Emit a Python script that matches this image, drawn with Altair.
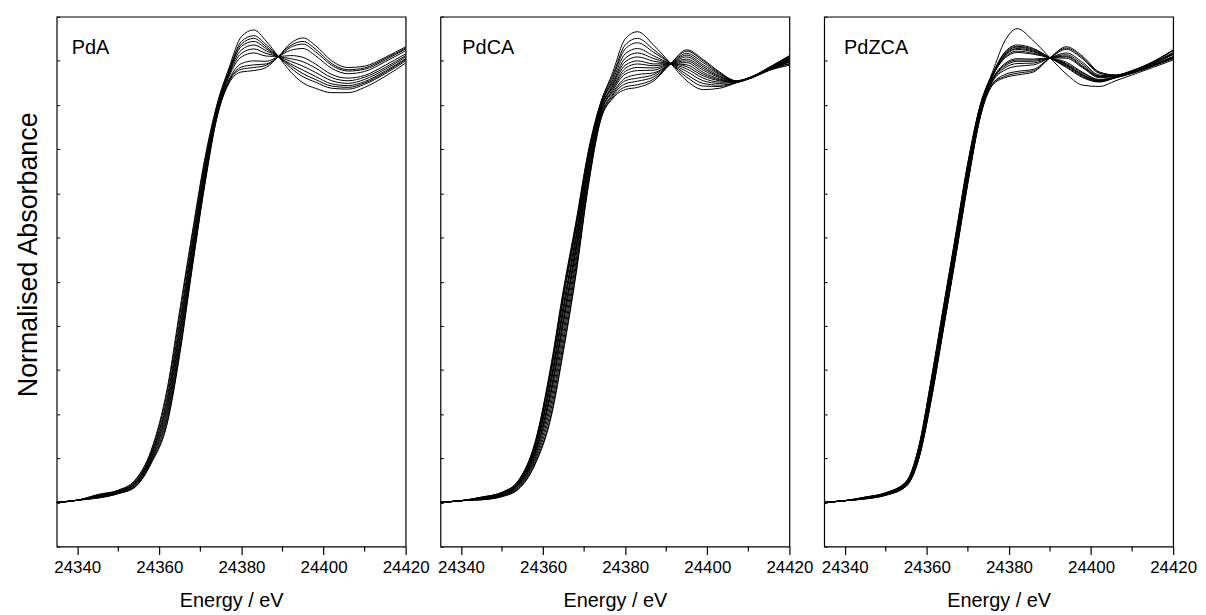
import altair as alt
import pandas as pd

FONT = "Liberation Sans"

# ---------------- energies (eV) ----------------
EDGE_E_A = [24335, 24340, 24345, 24350, 24354, 24358, 24362, 24365, 24368, 24371, 24374]
POST_E_A = [24377, 24380, 24383, 24386, 24389, 24392, 24395, 24398, 24402, 24406, 24410, 24415, 24420]

EDGE_E_C = [24335, 24340, 24345, 24350, 24354, 24358, 24362, 24365, 24368, 24371, 24374]
POST_E_C = [24377, 24380, 24383, 24387, 24391, 24395, 24399, 24403, 24407, 24411, 24415, 24420]

EDGE_E_Z = [24335, 24340, 24345, 24350, 24355, 24358, 24361, 24364, 24367, 24370, 24373]
POST_E_Z = [24376, 24379, 24382, 24386, 24390, 24394, 24398, 24402, 24406, 24410, 24415, 24420]

# ---------------- PdA ----------------
PDA_EDGE = [
    [0, .005, .010, .020, .034, .088, .182, .337, .530, .715, .870],
    [0, .005, .010, .020, .035, .090, .186, .342, .534, .718, .872],
    [0, .005, .011, .021, .036, .093, .194, .352, .542, .724, .875],
    [0, .005, .012, .022, .038, .096, .202, .362, .550, .730, .878],
    [0, .005, .013, .023, .040, .099, .210, .372, .558, .736, .880],
    [0, .005, .014, .024, .041, .101, .218, .382, .566, .742, .884],
    [0, .005, .014, .024, .043, .105, .226, .392, .574, .748, .887],
    [0, .005, .015, .025, .044, .108, .234, .402, .582, .754, .890],
    [0, .005, .016, .026, .046, .110, .242, .412, .590, .760, .892],
    [0, .005, .017, .027, .048, .115, .254, .427, .602, .769, .897],
    [0, .005, .018, .028, .050, .118, .262, .437, .610, .775, .900],
]
PDA_POST = [
    [.950, .975, .978, .985, 1.010, 1.040, 1.052, 1.035, 1.000, .985, .988, 1.008, 1.032],
    [.953, .981, .985, .990, 1.010, 1.035, 1.044, 1.027, .994, .980, .984, 1.005, 1.029],
    [.955, .986, .991, .993, 1.009, 1.031, 1.038, 1.021, .990, .977, .981, 1.002, 1.027],
    [.958, .994, 1.000, .999, 1.010, 1.024, 1.028, 1.012, .983, .971, .976, .998, 1.023],
    [.965, 1.009, 1.018, 1.011, 1.010, 1.012, 1.008, .993, .969, .961, .967, .990, 1.016],
    [.969, 1.017, 1.027, 1.017, 1.010, 1.005, .998, .984, .962, .955, .963, .985, 1.012],
    [.972, 1.025, 1.036, 1.023, 1.010, .999, .988, .974, .955, .949, .958, .981, 1.009],
    [.975, 1.033, 1.044, 1.028, 1.009, .993, .979, .965, .948, .944, .953, .977, 1.005],
    [.978, 1.038, 1.051, 1.032, 1.010, .989, .971, .958, .943, .940, .950, .974, 1.003],
    [.980, 1.044, 1.057, 1.037, 1.010, .984, .964, .952, .938, .936, .947, .971, 1.000],
    [.985, 1.055, 1.070, 1.045, 1.010, .975, .950, .938, .928, .928, .940, .965, .995],
]

# ---------------- PdCA ----------------
PDCA_EDGE = [
    [0, .004, .006, .013, .030, .085, .195, .345, .515, .715, .865],
    [0, .004, .006, .014, .031, .088, .201, .352, .521, .719, .867],
    [0, .004, .007, .015, .033, .093, .213, .366, .533, .727, .871],
    [0, .004, .008, .016, .035, .098, .225, .380, .545, .735, .875],
    [0, .004, .009, .018, .040, .110, .255, .415, .575, .755, .885],
    [0, .004, .008, .017, .037, .103, .237, .394, .557, .743, .879],
    [0, .004, .009, .018, .039, .108, .249, .408, .569, .751, .883],
    [0, .004, .010, .020, .044, .120, .279, .443, .599, .771, .893],
    [0, .004, .009, .019, .041, .113, .261, .422, .581, .759, .887],
    [0, .004, .010, .020, .043, .118, .273, .436, .593, .767, .891],
    [0, .004, .011, .022, .048, .130, .303, .471, .623, .787, .901],
    [0, .004, .011, .021, .045, .123, .285, .450, .605, .775, .895],
    [0, .004, .011, .022, .047, .128, .297, .464, .617, .783, .899],
    [0, .004, .012, .023, .050, .135, .315, .485, .635, .795, .905],
    [0, .004, .012, .023, .049, .133, .309, .478, .629, .791, .903],
]
PDCA_POST = [
    [.915, .935, .940, .955, .993, 1.025, 1.003, .975, .955, .965, .985, 1.012],
    [.918, .941, .946, .959, .993, 1.022, 1.000, .973, .955, .965, .985, 1.011],
    [.922, .948, .954, .964, .993, 1.017, .996, .971, .954, .965, .984, 1.010],
    [.925, .955, .961, .969, .993, 1.013, .991, .969, .954, .964, .984, 1.008],
    [.929, .961, .969, .973, .993, 1.009, .987, .966, .954, .964, .983, 1.007],
    [.933, .970, .978, .979, .994, 1.004, .983, .964, .954, .964, .983, 1.005],
    [.937, .976, .985, .984, .994, 1.000, .979, .962, .953, .964, .982, 1.004],
    [.940, .983, .993, .989, .994, .996, .974, .959, .953, .964, .982, 1.003],
    [.944, .990, 1.000, .993, .994, .991, .970, .957, .953, .964, .982, 1.001],
    [.948, .998, 1.009, .999, .994, .987, .966, .955, .952, .963, .981, 1.000],
    [.952, 1.006, 1.018, 1.005, .994, .982, .961, .952, .952, .963, .981, .998],
    [.957, 1.016, 1.028, 1.011, .994, .976, .955, .949, .952, .963, .980, .997],
    [.963, 1.027, 1.041, 1.019, .995, .969, .949, .945, .951, .963, .979, .994],
    [.968, 1.036, 1.051, 1.025, .995, .963, .943, .942, .951, .962, .979, .993],
    [.975, 1.050, 1.066, 1.035, .995, .955, .935, .938, .950, .962, .978, .990],
]

# ---------------- PdZCA ----------------
PDZCA_EDGE = [
    [0, .004, .008, .016, .037, .097, .228, .390, .554, .723, .872],
    [0, .004, .009, .017, .038, .101, .235, .398, .562, .730, .876],
    [0, .004, .009, .018, .040, .104, .240, .403, .567, .735, .879],
    [0, .004, .008, .017, .037, .098, .230, .392, .556, .725, .873],
    [0, .004, .010, .020, .043, .113, .255, .419, .583, .750, .888],
    [0, .004, .009, .017, .038, .100, .233, .395, .559, .728, .875],
    [0, .004, .009, .018, .040, .106, .243, .406, .570, .738, .881],
    [0, .004, .010, .019, .043, .112, .253, .417, .581, .748, .887],
    [0, .004, .009, .017, .039, .103, .238, .401, .565, .733, .878],
    [0, .004, .011, .020, .045, .118, .263, .428, .592, .758, .893],
    [0, .004, .010, .018, .041, .107, .245, .409, .573, .740, .882],
    [0, .004, .012, .021, .047, .122, .270, .436, .600, .765, .897],
    [0, .004, .011, .020, .044, .115, .258, .422, .586, .753, .890],
    [0, .004, .012, .022, .047, .124, .273, .438, .602, .768, .899],
    [0, .004, .011, .021, .046, .119, .265, .430, .594, .760, .894],
    [0, .004, .012, .022, .048, .125, .275, .441, .605, .770, .900],
]
PDZCA_POST = [
    [.945, .962, .968, .975, 1.007, 1.032, 1.010, .975, .968, .978, .998, 1.025],
    [.947, .965, .972, .978, 1.007, 1.029, 1.007, .974, .968, .978, .997, 1.024],
    [.948, .969, .976, .981, 1.007, 1.026, 1.004, .972, .967, .977, .997, 1.023],
    [.953, .979, .988, .991, 1.007, 1.018, .996, .968, .966, .976, .995, 1.019],
    [.955, .984, .994, .995, 1.007, 1.014, .992, .966, .966, .976, .994, 1.017],
    [.956, .988, .999, .999, 1.007, 1.011, .988, .965, .965, .975, .994, 1.016],
    [.958, .991, 1.002, 1.002, 1.007, 1.009, .986, .964, .965, .975, .993, 1.015],
    [.959, .994, 1.005, 1.004, 1.007, 1.006, .984, .962, .965, .975, .993, 1.014],
    [.964, 1.006, 1.019, 1.015, 1.007, .997, .974, .958, .964, .974, .991, 1.010],
    [.965, 1.008, 1.022, 1.017, 1.007, .994, .972, .957, .963, .973, .990, 1.009],
    [.966, 1.011, 1.026, 1.020, 1.007, .992, .969, .955, .963, .973, .990, 1.008],
    [.967, 1.013, 1.028, 1.022, 1.007, .991, .968, .955, .963, .973, .989, 1.007],
    [.968, 1.015, 1.031, 1.024, 1.007, .989, .966, .954, .962, .972, .989, 1.007],
    [.969, 1.018, 1.033, 1.026, 1.007, .987, .964, .953, .962, .972, .988, 1.006],
    [.970, 1.020, 1.036, 1.028, 1.007, .985, .962, .952, .962, .972, .988, 1.005],
    [.975, 1.045, 1.073, 1.045, 1.007, .970, .945, .942, .955, .968, .985, 1.002],
]

PANEL_LABELS = ["PdA", "PdCA", "PdZCA"]
X_DOMAIN = [24335, 24420]
Y_DOMAIN = [-0.1, 1.1]
X_MAJOR_TICKS = [24340, 24360, 24380, 24400, 24420]
X_MINOR_TICKS = [24350, 24370, 24390, 24410]
Y_TICKS = [-0.1, 0.0, 0.1, 0.2, 0.3, 0.4, 0.5, 0.6, 0.7, 0.8, 0.9, 1.0, 1.1]

W, H = 351, 533


def build(edge_e, post_e, edge_vals, post_vals):
    rows = []
    energies = edge_e + post_e
    for i, (ev, pv) in enumerate(zip(edge_vals, post_vals)):
        for e, v in zip(energies, ev + pv):
            rows.append({"curve": i, "E": e, "A": v})
    return pd.DataFrame(rows)


def panel(df, label, label_dx, first):
    x = alt.X(
        "E:Q",
        scale=alt.Scale(domain=X_DOMAIN, nice=False, zero=False),
        axis=alt.Axis(
            values=X_MAJOR_TICKS,
            format="d",
            tickSize=8,
            labelFlush=False,
            labelOverlap=False,
            labelFontSize=17,
            labelPadding=5,
            titleFontSize=20,
            titlePadding=15,
            domain=False,
            grid=False,
            tickColor="black",
            tickWidth=1.2,
        ),
        title="Energy / eV",
    )
    y = alt.Y(
        "A:Q",
        scale=alt.Scale(domain=Y_DOMAIN, nice=False, zero=False),
        axis=alt.Axis(
            values=Y_TICKS,
            labels=False,
            domain=False,
            grid=False,
            tickSize=3,
            offset=-3,
            tickColor="black",
            tickWidth=1,
            titleFontSize=27,
            titlePadding=14,
            titleY=239,
        ),
        title="Normalised Absorbance" if first else "",
    )
    lines = alt.Chart(df).mark_line(
        color="black", strokeWidth=1.0, interpolate="monotone"
    ).encode(x=x, y=y, detail="curve:N")
    minor = alt.Chart(pd.DataFrame({"E": X_MINOR_TICKS})).mark_rule(
        color="black", strokeWidth=1.2
    ).encode(x=x, y=alt.value(H), y2=alt.value(H + 5))
    text = alt.Chart(pd.DataFrame({"t": [label]})).mark_text(
        align="left", baseline="middle", fontSize=20, font=FONT, color="black"
    ).encode(x=alt.value(label_dx), y=alt.value(31), text="t:N")
    return alt.layer(lines, minor, text).properties(width=W, height=H)


df_a = build(EDGE_E_A, POST_E_A, PDA_EDGE, PDA_POST)
df_c = build(EDGE_E_C, POST_E_C, PDCA_EDGE, PDCA_POST)
df_z = build(EDGE_E_Z, POST_E_Z, PDZCA_EDGE, PDZCA_POST)

chart = alt.hconcat(
    panel(df_a, PANEL_LABELS[0], 15, True),
    panel(df_c, PANEL_LABELS[1], 22, False),
    panel(df_z, PANEL_LABELS[2], 20, False),
    spacing=35,
    bounds="flush",
).properties(
    padding={"left": 5, "top": 5, "right": 0, "bottom": 0}
).configure_view(
    stroke="black", strokeWidth=1.2
).configure_axis(
    labelFont=FONT, titleFont=FONT, labelColor="black", titleColor="black",
    titleFontWeight="normal",
).configure_text(font=FONT)

chart.save("out.html", embed_options={"renderer": "svg", "actions": False})
